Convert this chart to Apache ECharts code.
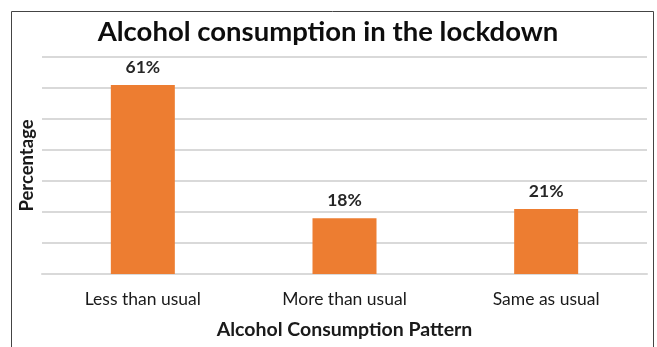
<!DOCTYPE html>
<html><head><meta charset="utf-8">
<script src="https://cdn.jsdelivr.net/npm/echarts@6/dist/echarts.min.js"></script>
<style>html,body{margin:0;padding:0;background:#fff}#c{width:657px;height:347px}</style>
</head><body><div id="c"></div>
<script>
const categories = ["Less than usual", "More than usual", "Same as usual"];
const values = [61, 18, 21];
const yTicks = [0, 10, 20, 30, 40, 50, 60, 70];

const chart = echarts.init(document.getElementById('c'), null, {renderer: 'canvas'});
const F = 'Lato, "Open Sans", sans-serif';
chart.setOption({
  animation: false,
  backgroundColor: '#fff',
  title: {
    text: 'Alcohol consumption in the lockdown',
    left: 323, top: 13, textAlign: 'center',
    textStyle: {fontFamily: F, fontSize: 27.5, fontWeight: 'bold', color: '#0d0d0d'}
  },
  graphic: [{
    type: 'rect', shape: {x: 11.5, y: 11.5, width: 642, height: 400},
    style: {fill: 'none', stroke: '#444', lineWidth: 1}, silent: true
  }],
  grid: {left: 42, right: 10, top: 57, bottom: 73},
  xAxis: {
    type: 'category', data: categories,
    axisLine: {show: true, lineStyle: {color: '#d9d9d9', width: 2}},
    axisTick: {show: false},
    axisLabel: {fontFamily: F, fontSize: 17.5, color: '#1a1a1a', margin: 16},
    name: 'Alcohol Consumption Pattern', nameLocation: 'middle', nameGap: 46,
    nameTextStyle: {fontFamily: F, fontSize: 19.5, fontWeight: 'bold', color: '#1a1a1a'}
  },
  yAxis: {
    type: 'value', min: yTicks[0], max: yTicks[yTicks.length - 1], interval: 10,
    axisLabel: {show: false}, axisLine: {show: false}, axisTick: {show: false},
    splitLine: {lineStyle: {color: '#d9d9d9', width: 2}},
    name: 'Percentage', nameLocation: 'middle', nameGap: 5, nameRotate: 90,
    nameTextStyle: {fontFamily: F, fontSize: 18.5, fontWeight: 'bold', color: '#1a1a1a'}
  },
  series: [{
    type: 'bar', data: values, barWidth: 64,
    itemStyle: {color: '#ED7D31'},
    label: {show: true, position: 'top', distance: 9, formatter: '{c}%',
      fontFamily: F, fontSize: 17.5, fontWeight: 'bold', color: '#262626'}
  }]
});
</script></body></html>
